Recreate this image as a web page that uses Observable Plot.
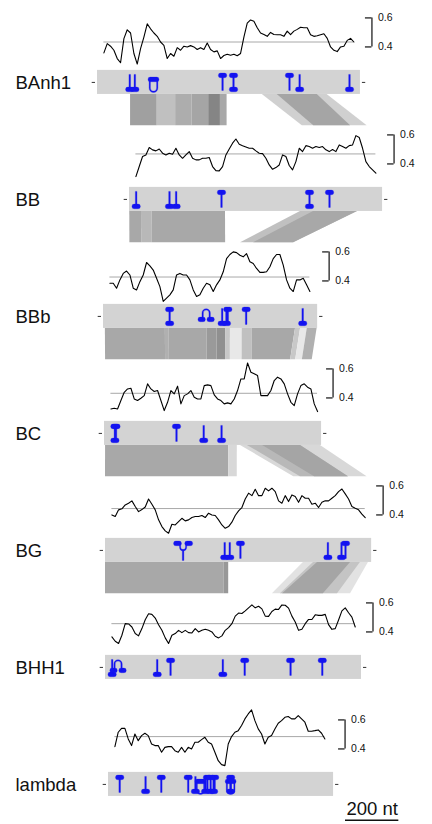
<!DOCTYPE html>
<html>
<head>
<meta charset="utf-8">
<script src="https://cdn.jsdelivr.net/npm/d3@7"></script>
<script src="https://cdn.jsdelivr.net/npm/@observablehq/plot@0.6"></script>
<style>html,body{margin:0;padding:0;background:#fff}</style>
</head>
<body>
<div id="chart"></div>
<script>
// ---------------- data ----------------
const genomes = ["BAnh1", "BB", "BBb", "BC", "BG", "BHH1", "lambda"];
const genomeLength = [986, 949, 803, 814, 998, 960, 844];     // nt
const meanGC = [0.434, 0.469, 0.427, 0.432, 0.444, 0.457, 0.485];
const gcWindowStart = 24, gcWindowStep = 12.5;                // nt

const gcBAnh1 = [0.359,0.423,0.405,0.377,0.320,0.291,0.457,0.518,0.496,0.355,
0.282,0.389,0.468,0.559,0.525,0.496,0.473,0.434,0.411,0.320,
0.355,0.336,0.395,0.377,0.405,0.400,0.409,0.400,0.382,0.395,
0.382,0.427,0.382,0.366,0.373,0.320,0.341,0.350,0.343,0.350,
0.339,0.355,0.468,0.564,0.586,0.577,0.532,0.496,0.486,0.473,
0.500,0.486,0.484,0.484,0.473,0.509,0.484,0.509,0.521,0.536,
0.532,0.532,0.484,0.473,0.477,0.484,0.491,0.459,0.400,0.377,
0.368,0.400,0.405,0.445,0.459,0.434];
const gcBB = [0.313,0.382,0.451,0.462,0.513,0.497,0.490,0.503,0.474,0.462,
0.474,0.467,0.508,0.462,0.439,0.462,0.485,0.439,0.428,0.428,
0.439,0.439,0.444,0.382,0.354,0.352,0.382,0.462,0.503,0.543,
0.572,0.536,0.526,0.517,0.508,0.508,0.490,0.474,0.471,0.439,
0.393,0.363,0.375,0.393,0.462,0.451,0.389,0.359,0.416,0.508,
0.485,0.526,0.520,0.508,0.520,0.513,0.520,0.497,0.485,0.499,
0.485,0.531,0.520,0.508,0.526,0.531,0.595,0.582,0.508,0.416,
0.382,0.359,0.336];
const gcBBb = [0.384,0.384,0.350,0.407,0.452,0.468,0.441,0.350,0.338,0.395,
0.441,0.527,0.504,0.475,0.418,0.361,0.259,0.282,0.304,0.338,
0.441,0.452,0.441,0.441,0.407,0.338,0.293,0.304,0.350,0.384,
0.373,0.327,0.373,0.407,0.463,0.554,0.582,0.600,0.595,0.577,
0.566,0.588,0.532,0.520,0.486,0.459,0.459,0.463,0.498,0.554,
0.582,0.582,0.509,0.407,0.350,0.327,0.407,0.407,0.418,0.373,
0.327];
const gcBC = [0.324,0.329,0.324,0.382,0.439,0.462,0.467,0.393,0.382,0.398,
0.416,0.497,0.462,0.444,0.451,0.382,0.313,0.370,0.451,0.428,
0.481,0.359,0.416,0.428,0.451,0.405,0.393,0.393,0.485,0.490,
0.485,0.421,0.393,0.382,0.359,0.366,0.359,0.393,0.451,0.531,
0.531,0.641,0.577,0.566,0.554,0.416,0.416,0.416,0.451,0.520,
0.543,0.531,0.497,0.428,0.370,0.347,0.428,0.485,0.497,0.474,
0.462,0.359,0.306];
const gcBG = [0.400,0.389,0.435,0.442,0.469,0.481,0.497,0.458,0.423,0.437,
0.455,0.510,0.474,0.435,0.366,0.320,0.290,0.274,0.336,0.331,
0.354,0.377,0.359,0.366,0.382,0.389,0.389,0.396,0.382,0.412,
0.400,0.396,0.366,0.331,0.308,0.320,0.350,0.396,0.428,0.451,
0.510,0.550,0.533,0.577,0.533,0.533,0.584,0.566,0.584,0.561,
0.497,0.481,0.533,0.492,0.538,0.527,0.487,0.533,0.515,0.515,
0.474,0.481,0.451,0.487,0.497,0.497,0.515,0.533,0.561,0.579,
0.545,0.510,0.458,0.446,0.435,0.405,0.382];
const gcBHH1 = [0.366,0.336,0.320,0.377,0.457,0.455,0.434,0.389,0.373,0.423,
0.484,0.525,0.521,0.496,0.450,0.411,0.359,0.320,0.377,0.389,
0.411,0.395,0.411,0.395,0.393,0.423,0.400,0.411,0.418,0.411,
0.400,0.370,0.359,0.373,0.411,0.430,0.457,0.509,0.530,0.527,
0.545,0.566,0.586,0.566,0.577,0.559,0.509,0.507,0.541,0.557,
0.555,0.586,0.584,0.564,0.509,0.468,0.411,0.418,0.457,0.486,
0.486,0.518,0.514,0.514,0.521,0.450,0.418,0.423,0.482,0.545,
0.566,0.532,0.502,0.434];
const gcLambda = [0.416,0.515,0.542,0.542,0.469,0.423,0.503,0.457,0.492,0.508,
0.492,0.434,0.423,0.423,0.377,0.411,0.416,0.416,0.388,0.377,
0.411,0.377,0.411,0.400,0.446,0.446,0.464,0.480,0.446,0.434,
0.377,0.319,0.292,0.285,0.434,0.485,0.515,0.526,0.561,0.607,
0.641,0.669,0.595,0.538,0.503,0.434,0.480,0.492,0.538,0.577,
0.595,0.618,0.623,0.607,0.607,0.630,0.607,0.584,0.522,0.522,
0.526,0.531,0.508,0.469];

// terminator features: [position (nt), kind]
// T = hairpin on top, B = hairpin below, I = both strands, U = hairpin with loop,
// A = arch with two stems, Y = two hairpins joined by a loop
const featBAnh1 = [[121,"B"],[140,"B"],[210,"U"],[469,"T"],[510,"I"],[720,"T"],[758,"B"],[945,"B"]];
const featBB = [[25,"B"],[150,"B"],[175,"B"],[345,"T"],[675,"I"],[750,"T"]];
const featBBb = [[248,"I"],[385,"A"],[445,"B"],[461,"B"],[466,"T"],[535,"T"],[747,"B"]];
const featBC = [[39,"I"],[43,"T"],[270,"T"],[372,"B"],[439,"B"]];
const featBG = [[291,"Y"],[447,"B"],[466,"B"],[506,"T"],[834,"B"],[885,"B"],[900,"T"]];
const featBHH1 = [[25,"B"],[47,"A"],[194,"B"],[244,"T"],[440,"B"],[522,"T"],[694,"T"],[813,"T"]];
const featLambda = [[42,"T"],[139,"B"],[198,"T"],[299,"T"],[326,"B"],[345,"U"],[364,"B"],[371,"T"],[383,"I"],[394,"B"],[398,"T"],[458,"T"],[458,"U"],[458,"B"]];

// alignments between consecutive genomes:
// [upper start, upper end, lower start, lower end, similarity]
const alignBAnh1BB = [
  [124,224,4,104,0.625],[224,293,104,173,0.375],[293,355,173,235,0.52],
  [355,417,235,297,0.586],[417,461,297,341,0.836],[461,486,341,366,0.5625],
  [618,861,648,891,0.25],[674,824,691,829,0.586]];
const alignBBBBb = [
  [1,48,99,145,0.5625],[48,85,145,183,0.4375],[85,360,183,458,0.5625],
  [641,855,514,713,0.375],[690,855,563,713,0.5625]];
const alignBBbBC = [
  [7,232,4,229,0.56],[232,245,229,241,0.5],[245,389,241,385,0.56],
  [389,426,385,422,0.67],[426,458,422,454,0.75],[458,476,454,472,0.31],
  [476,520,472,516,0.06],[520,558,516,554,0.375],[558,720,554,698,0.56],
  [720,739,698,717,0.31],[739,764,717,742,0.06],[764,801,742,779,0.5]];
const alignBCBG = [
  [4,466,0,462,0.5625],[466,498,462,494,0.1875],
  [510,810,706,981,0.1875],[536,735,731,911,0.4375],[593,735,784,911,0.586]];
const alignBGBHH1 = [
  [0,444,0,444,0.5625],[444,462,444,462,0.6875],
  [742,986,626,919,0.11],[780,956,656,870,0.34],[795,919,664,817,0.586]];

const scaleBarNt = 200;

// ---------------- layout ----------------
const W = 432, H = 824;
const NT_PER_PX = 3.75;
const ROW = H / genomes.length;
const gcAt = px => 0.6 - (px - 14.5) / 146;     // row-pixel -> GC units
const yBarTop = gcAt(67.3), yBarBot = gcAt(91.5), yBarMid = gcAt(79.4), yRibBot = gcAt(123);
const startPx = [97, 129, 103, 104, 105, 105, 108];
const offset = startPx.map(p => p * NT_PER_PX);
const px = p => p * NT_PER_PX;

const gcSeries = [gcBAnh1, gcBB, gcBBb, gcBC, gcBG, gcBHH1, gcLambda];
const featSeries = [featBAnh1, featBB, featBBb, featBC, featBG, featBHH1, featLambda];
const alignSeries = [alignBAnh1BB, alignBBBBb, alignBBbBC, alignBCBG, alignBGBHH1];

const G = genomes.map((name, i) => {
  const start = offset[i], end = offset[i] + genomeLength[i];
  const n = gcSeries[i].length;
  return {name, start, end, mean: meanGC[i],
    lineStart: start + gcWindowStart, lineEnd: start + gcWindowStart + (n - 1) * gcWindowStep,
    bx: end + px(11.5), top: yBarTop, bot: yBarBot, mid: yBarMid};
});

const gcRows = gcSeries.flatMap((vals, i) => vals.map((v, j) => ({
  fy: genomes[i], x: offset[i] + gcWindowStart + j * gcWindowStep, gc: v})));

const featRows = featSeries.flatMap((arr, i) => arr.map(([pos, kind]) => ({
  fy: genomes[i], x: offset[i] + pos, y: yBarMid, kind})));

let rid = 0;
const ribRows = alignSeries.flatMap((arr, k) => arr.flatMap(([ts, te, bs, be, s]) => {
  const id = rid++;
  return [
    {id, fy: genomes[k], y: yBarBot, x1: offset[k] + ts, x2: offset[k] + te, s},
    {id, fy: genomes[k], y: yRibBot, x1: offset[k + 1] + bs, x2: offset[k + 1] + be, s}
  ];
}));

const endTicks = G.flatMap(g => [
  {fy: g.name, y: g.mid, x1: g.start - px(5.3), x2: g.start - px(2)},
  {fy: g.name, y: g.mid, x1: g.end + px(2), x2: g.end + px(5.3)}]);

const bracketTicks = G.flatMap(g => [0.6, 0.4].map(v => ({
  fy: g.name, y: v, x1: g.bx - px(6.5), x2: g.bx, tx: g.bx + px(6), label: String(v)})));

// ---------------- glyphs ----------------
function pill(c, cx, cy, w, h) {
  const r = h / 2;
  c.moveTo(cx - w / 2 + r, cy - r);
  c.lineTo(cx + w / 2 - r, cy - r);
  c.arc(cx + w / 2 - r, cy, r, -Math.PI / 2, Math.PI / 2);
  c.lineTo(cx - w / 2 + r, cy + r);
  c.arc(cx - w / 2 + r, cy, r, Math.PI / 2, 3 * Math.PI / 2);
  c.closePath();
}
function stem(c, x, y1, y2) { c.rect(x - 0.8, y1, 1.6, y2 - y1); }
// U-shaped loop hanging down from yt, drawn clockwise as a filled outline
function uLoop(c, ro, ri, yt, yc) {
  c.moveTo(-ro, yt); c.lineTo(-ri, yt); c.lineTo(-ri, yc);
  c.arc(0, yc, ri, Math.PI, 0, true);
  c.lineTo(ri, yt); c.lineTo(ro, yt); c.lineTo(ro, yc);
  c.arc(0, yc, ro, 0, Math.PI, false);
  c.closePath();
}
function arch(c) {
  const ro = 4.2, ri = 2.8, yb = 3, yc = -3.5;
  c.moveTo(-ro, yb); c.lineTo(-ro, yc);
  c.arc(0, yc, ro, Math.PI, 2 * Math.PI, false);
  c.lineTo(ro, yb); c.lineTo(ri, yb); c.lineTo(ri, yc);
  c.arc(0, yc, ri, 0, -Math.PI, true);
  c.lineTo(-ri, yb); c.closePath();
}
const HW = 8.5, HH = 4.6;
const SYM = {
  T: {draw(c) { pill(c, 0, -7, HW, HH); stem(c, 0, -7, 8); }},
  B: {draw(c) { pill(c, 0, 7, HW, HH); stem(c, 0, -8, 7); }},
  I: {draw(c) { pill(c, 0, -7, HW, HH); pill(c, 0, 7, HW, HH); stem(c, 0, -7, 7); }},
  U: {draw(c) { pill(c, 0, -3, 11, HH); uLoop(c, 4.4, 3.1, -3, 5.6); }},
  A: {draw(c) { arch(c); pill(c, -4.5, 3, 7.5, HH); pill(c, 4.5, 3, 7.5, HH); }},
  Y: {draw(c) { pill(c, -5.6, -7, 8, HH); pill(c, 5.6, -7, 8, HH); uLoop(c, 3.6, 2.4, -7, -3.2); stem(c, 0, -1, 10); }}
};
const BLUE = "#1414f0";
const FONT = "'Liberation Sans', Arial, Helvetica, sans-serif";

const chart = Plot.plot({
  width: W, height: H, margin: 0,
  x: {domain: [0, W * NT_PER_PX], axis: null},
  y: {domain: [gcAt(ROW), gcAt(0)], axis: null},
  fy: {domain: genomes, padding: 0, axis: null},
  color: {type: "linear", domain: [0, 1], range: ["#f0f0f0", "#707070"]},
  style: {fontFamily: FONT, background: "#fff", overflow: "visible"},
  marks: [
    Plot.areaX(ribRows, {x1: "x1", x2: "x2", y: "y", z: "id", fill: "s", fy: "fy", curve: "linear"}),
    Plot.rect(G, {x1: "start", x2: "end", y1: "top", y2: "bot", fy: "name", fill: "#d3d3d3"}),
    Plot.ruleY(endTicks, {y: "y", x1: "x1", x2: "x2", fy: "fy", stroke: "#333", strokeWidth: 1}),
    Plot.ruleY(G, {y: "mean", x1: "lineStart", x2: "lineEnd", fy: "name", stroke: "#a8a8a8", strokeWidth: 1}),
    Plot.line(gcRows, {x: "x", y: "gc", fy: "fy", stroke: "#000", strokeWidth: 1.1}),
    Plot.ruleX(G, {x: "bx", y1: 0.4, y2: 0.6, fy: "name", stroke: "#222", strokeWidth: 1.3}),
    Plot.ruleY(bracketTicks, {y: "y", x1: "x1", x2: "x2", fy: "fy", stroke: "#222", strokeWidth: 1.3}),
    Plot.text(bracketTicks, {x: "tx", y: "y", text: "label", fy: "fy", textAnchor: "start", fontSize: 10.5, fill: "#111"}),
    ...Object.keys(SYM).map(k => Plot.dot(featRows.filter(d => d.kind === k), {
      x: "x", y: "y", fy: "fy", symbol: SYM[k], fill: BLUE, stroke: BLUE, strokeWidth: 0.3})),
    Plot.text(G, {x: px(15), y: "mid", text: "name", fy: "name", textAnchor: "start", fontSize: 18.5, fill: "#111", dy: 1}),
    Plot.ruleY([{fy: "lambda", y: gcAt(115.4), x1: px(345), x2: px(345) + scaleBarNt}],
      {y: "y", x1: "x1", x2: "x2", fy: "fy", stroke: "#111", strokeWidth: 1.4}),
    Plot.text([{fy: "lambda", y: gcAt(104.5), x: px(345) + scaleBarNt / 2, t: scaleBarNt + " nt"}],
      {x: "x", y: "y", text: "t", fy: "fy", fontSize: 18.5, fill: "#111"})
  ]
});
document.getElementById("chart").appendChild(chart);
</script>
</body>
</html>
